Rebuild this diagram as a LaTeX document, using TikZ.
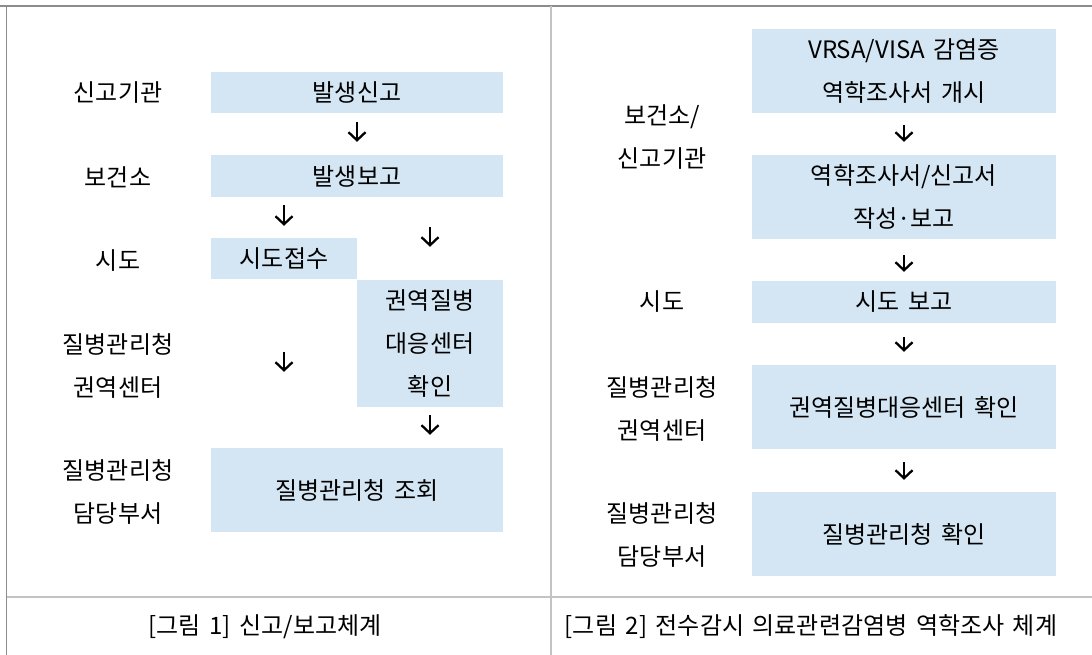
\documentclass[tikz,border=0pt]{standalone}
\usepackage{fontspec}
\setmainfont{Noto Sans CJK KR}
\usepackage{tikz}
\usetikzlibrary{arrows.meta,%
                shapes,positioning}
\definecolor{boxblue}{RGB}{212,230,243}
\definecolor{framegray}{RGB}{140,140,140}
\definecolor{rulegray}{RGB}{195,195,195}
\newcommand{\gap}{\hspace{0.36em}}

\begin{document}
\begin{tikzpicture}[x=1pt,y=-1pt,
  box/.style={fill=boxblue, inner sep=0pt, align=center, font=\fontsize{24}{43}\selectfont},
  lbl/.style={inner sep=0pt, align=center, font=\fontsize{24}{43}\selectfont},
  arr/.style={-{Straight Barb[length=8pt,width=17pt]}, line width=2.3pt}]
\useasboundingbox (0,0) rectangle (1092,655);
%frame
\draw[framegray, line width=1.8pt] (0,6) -- (1092,6);
\draw[framegray, line width=1.8pt] (6.5,6) -- (6.5,655);
\draw[rulegray, line width=1.8pt] (6.5,597) -- (1092,597);
\draw[rulegray, line width=1.8pt] (551,6) -- (551,655);
% left panel
\node[lbl] (l1) at (118,93) {신고기관};
\node[lbl] (l2) at (118,177) {보건소};
\node[lbl] (l3) at (118,261) {시도};
\node[lbl] (l4) at (118,366) {질병관리청\\권역센터};
\node[lbl] (l5) at (118,492) {질병관리청\\담당부서};
\node[box, minimum width=292pt, minimum height=41pt] (sg) at (357,92.5) {발생신고};
\node[box, minimum width=292pt, minimum height=42pt] (bg) at (357,176) {발생보고};
\node[box, minimum width=146pt, minimum height=41pt] (sd) at (284,258.5) {시도접수};
\node[box, minimum width=146pt, minimum height=127pt] (gk) at (430,343.5) {권역질병\\대응센터\\확인};
\node[box, minimum width=292pt, minimum height=84pt] (jh) at (357,490) {질병관리청\gap 조회};
\draw[arr, shorten <=9pt, shorten >=13pt] (sg) -- (bg);
\draw[arr, shorten <=8pt, shorten >=12pt] (sd |- bg.south) -- (sd.north);
\draw[arr, shorten <=30pt, shorten >=33pt] (gk |- bg.south) -- (gk.north);
\draw[arr, shorten <=73pt, shorten >=76pt] (sd.south) -- (sd |- jh.north);
\draw[arr, shorten <=8pt, shorten >=13pt] (gk.south) -- (gk |- jh.north);
\node[lbl] (c1) at (265,627) {[그림\gap 1]\gap 신고/보고체계};
% right panel
\node[lbl] (r1) at (662,137) {보건소/\\신고기관};
\node[lbl] (r2) at (662,302) {시도};
\node[lbl] (r3) at (662,409) {질병관리청\\권역센터};
\node[lbl] (r4) at (662,535) {질병관리청\\담당부서};
\node[box, minimum width=304pt, minimum height=84pt] (b1) at (904,71) {VRSA/VISA\gap 감염증\\역학조사서\gap 개시};
\node[box, minimum width=304pt, minimum height=84pt] (b2) at (904,197) {역학조사서/신고서\\작성·보고};
\node[box, minimum width=304pt, minimum height=42pt] (b3) at (904,302) {시도\gap 보고};
\node[box, minimum width=304pt, minimum height=84pt] (b4) at (904,407) {권역질병대응센터\gap 확인};
\node[box, minimum width=304pt, minimum height=84pt] (b5) at (904,534) {질병관리청\gap 확인};
\draw[arr, shorten <=12pt, shorten >=13pt] (b1) -- (b2);
\draw[arr, shorten <=16pt, shorten >=9pt] (b2) -- (b3);
\draw[arr, shorten <=14pt, shorten >=13pt] (b3) -- (b4);
\draw[arr, shorten <=13pt, shorten >=12pt] (b4) -- (b5);
\node[lbl] (c2) at (811,627) {[그림\gap 2]\gap 전수감시\gap 의료관련감염병\gap 역학조사\gap 체계};
\end{tikzpicture}
\end{document}
